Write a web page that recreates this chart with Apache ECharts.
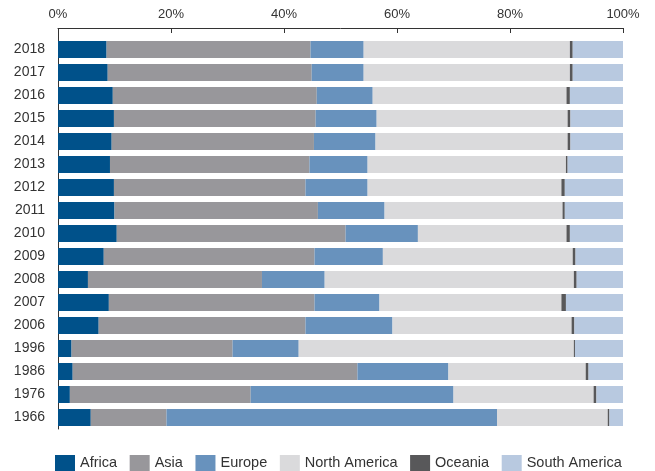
<!DOCTYPE html>
<html>
<head>
<meta charset="utf-8">
<script src="https://cdn.jsdelivr.net/npm/echarts@6/dist/echarts.min.js"></script>
<style>
  html, body { margin: 0; padding: 0; background: #fff; }
  #main { width: 655px; height: 471px; }
</style>
</head>
<body>
<div id="main"></div>
<script>
// years, top to bottom
var years = ['2018', '2017', '2016', '2015', '2014', '2013', '2012', '2011', '2010',
  '2009', '2008', '2007', '2006', '1996', '1986', '1976', '1966'];

// shares in %
var africa = [8.6, 8.8, 9.7, 9.9, 9.5, 9.2, 9.9, 10.0, 10.4, 8.1, 5.3, 9.0, 7.2, 2.4, 2.6, 2.1, 5.8];
var asia = [36.1, 36.1, 36.1, 35.7, 35.8, 35.3, 33.9, 36.0, 40.5, 37.3, 30.8, 36.4, 36.6, 28.5, 50.4, 32.0, 13.4];
var europe = [9.4, 9.2, 9.9, 10.8, 10.9, 10.3, 11.0, 11.8, 12.8, 12.1, 11.1, 11.5, 15.4, 11.7, 16.1, 35.9, 58.5];
var northAmerica = [36.5, 36.5, 34.3, 33.8, 34.0, 35.1, 34.3, 31.5, 26.3, 33.6, 44.1, 32.2, 31.7, 48.7, 24.3, 24.8, 19.6];
var oceania = [0.5, 0.5, 0.6, 0.5, 0.5, 0.3, 0.6, 0.4, 0.6, 0.5, 0.5, 0.8, 0.5, 0.2, 0.5, 0.5, 0.3];
var southAmerica = [8.9, 8.9, 9.4, 9.3, 9.3, 9.8, 10.3, 10.3, 9.4, 8.4, 8.2, 10.1, 8.6, 8.5, 6.1, 4.7, 2.4];

var xTicks = [0, 20, 40, 60, 80, 100];

var regions = [
  { name: 'Africa', data: africa, color: '#00518a' },
  { name: 'Asia', data: asia, color: '#98979b' },
  { name: 'Europe', data: europe, color: '#6892bd' },
  { name: 'North America', data: northAmerica, color: '#dadadc' },
  { name: 'Oceania', data: oceania, color: '#58585a' },
  { name: 'South America', data: southAmerica, color: '#b8c9e0' }
];

var font = "'Liberation Sans', Arial, sans-serif";
var chart = echarts.init(document.getElementById('main'));

var option = {
  animation: false,
  textStyle: { fontFamily: font },
  legend: {
    left: 50,
    top: 450,
    itemWidth: 20,
    itemHeight: 16,
    itemGap: 12.6,
    icon: 'rect',
    textStyle: { fontSize: 14.5, color: '#333', fontFamily: font },
    data: regions.map(function (r) { return r.name; })
  },
  grid: {
    left: 58,
    right: 32,
    top: 38,
    height: 391
  },
  xAxis: {
    type: 'value',
    position: 'top',
    offset: 10,
    min: xTicks[0],
    max: xTicks[xTicks.length - 1],
    interval: 20,
    axisLine: { show: true, lineStyle: { color: '#333', width: 1 } },
    axisTick: { show: true, inside: true, length: 5, lineStyle: { color: '#333' } },
    axisLabel: {
      margin: 7,
      fontSize: 13,
      color: '#333',
      fontFamily: font,
      formatter: '{value}%'
    },
    splitLine: { show: false }
  },
  yAxis: {
    type: 'category',
    inverse: true,
    data: years,
    axisLine: { show: true, lineStyle: { color: '#333', width: 1 } },
    axisTick: { show: false },
    axisLabel: { margin: 13, fontSize: 14, color: '#333', fontFamily: font }
  },
  // stub joining the y axis line to the top axis
  graphic: [{
    type: 'line',
    shape: { x1: 58.5, y1: 28, x2: 58.5, y2: 38 },
    style: { stroke: '#333', lineWidth: 1 }
  }],
  series: regions.map(function (r) {
    return {
      name: r.name,
      type: 'bar',
      stack: 'total',
      barWidth: 17,
      itemStyle: { color: r.color },
      data: r.data
    };
  })
};
chart.setOption(option);
</script>
</body>
</html>
